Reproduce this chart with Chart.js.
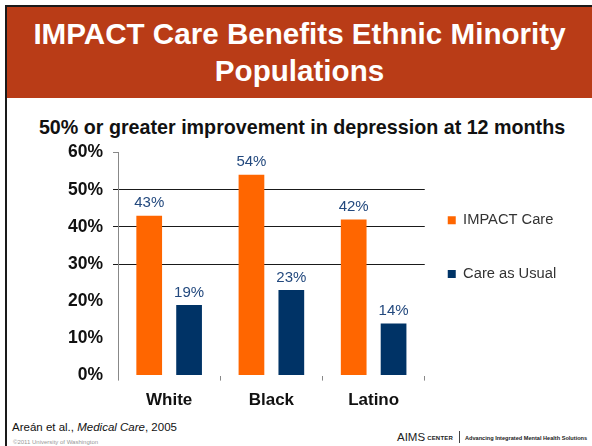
<!DOCTYPE html>
<html>
<head>
<meta charset="utf-8">
<script src="https://cdn.jsdelivr.net/npm/chart.js@4"></script>
<style>
  html, body { margin: 0; padding: 0; background: #fff; }
  body { width: 592px; height: 446px; position: relative; overflow: hidden;
         font-family: "Liberation Sans", Arial, sans-serif; }
  .frame-top { position: absolute; left: 5px; top: 5px; width: 587px; height: 2px; background: #1a1a1a; }
  .frame-left { position: absolute; left: 5px; top: 5px; width: 2px; height: 441px; background: #1a1a1a; }
  .header { position: absolute; left: 7px; top: 7px; width: 585px; height: 91px; background: #B93C17;
            color: #fff; font-weight: bold; font-size: 29.6px; line-height: 37px; text-align: center;
            box-sizing: border-box; padding-top: 8px; }
  .subtitle { position: absolute; left: 8px; top: 115px; width: 588px; text-align: center;
              font-size: 19.7px; line-height: 24px; font-weight: bold; color: #111; white-space: nowrap; }
  .chart-box { position: absolute; left: 8px; top: 132px; width: 584px; height: 289px; }
  .cite { position: absolute; left: 12px; top: 420px; font-size: 11.5px; line-height: 14px; color: #111; }
  .copy { position: absolute; left: 13px; top: 439px; font-size: 6px; line-height: 7px; color: #999; }
  .aims { position: absolute; left: 397px; top: 431px; font-size: 11.5px; color: #222; white-space: nowrap; }
  .aims .ctr { font-size: 6px; font-weight: bold; letter-spacing: 0.2px; vertical-align: 1px; margin-left: 2px; }
  .aims .bar { display: inline-block; width: 1px; height: 12px; background: #444; vertical-align: -2px; margin: 0 5px 0 6px; }
  .aims .tag { font-size: 5.6px; font-weight: bold; vertical-align: 1px; }
</style>
</head>
<body>
<div class="frame-top"></div>
<div class="frame-left"></div>
<div class="header">IMPACT Care Benefits Ethnic Minority<br>Populations</div>
<div class="subtitle">50% or greater improvement in depression at 12 months</div>
<div class="cite">Areán et al., <i>Medical Care</i>, 2005</div>
<div class="copy">©2011 University of Washington</div>
<div class="aims">AIMS<span class="ctr">CENTER</span><span class="bar"></span><span class="tag">Advancing Integrated Mental Health Solutions</span></div>
<div class="chart-box"><canvas id="chart"></canvas></div>

<script>
// Groups along the x axis
const groups = ["White", "Black", "Latino"];
// Share of patients with 50%+ improvement at 12 months (%)
const impactCare = [43, 54, 42];
const careAsUsual = [19, 23, 14];
// Y axis tick values (%)
const yTicks = [0, 10, 20, 30, 40, 50, 60];
const gridValues = [30, 40, 50];

const ORANGE = "#FF6600";
const NAVY = "#003366";
const LABEL_BLUE = "#23497E";
const FONT = "'Liberation Sans', Arial, sans-serif";

// Writes each bar's value just above it
const valueLabels = {
  id: "valueLabels",
  afterDatasetsDraw(chart) {
    const ctx = chart.ctx;
    ctx.save();
    ctx.font = "15px " + FONT;
    ctx.fillStyle = LABEL_BLUE;
    ctx.textAlign = "center";
    ctx.textBaseline = "bottom";
    chart.data.datasets.forEach((ds, di) => {
      chart.getDatasetMeta(di).data.forEach((bar, i) => {
        ctx.fillText(ds.data[i] + "%", bar.x, bar.y - 5);
      });
    });
    ctx.restore();
  }
};

// Pulls the legend closer to the plot, lowers it beside the bars and
// widens its box so the labels are not clipped
const legendOffset = {
  id: "legendOffset",
  afterLayout(chart, args, opts) {
    const lg = chart.legend;
    lg.left -= opts.dx;
    lg.right = chart.width;
    lg.width = lg.right - lg.left;
    lg.top += opts.dy; lg.bottom += opts.dy;
    if (lg.adjustHitBoxes) lg.adjustHitBoxes();
  }
};

new Chart(document.getElementById("chart"), {
  type: "bar",
  data: {
    labels: groups,
    datasets: [
      { label: "IMPACT Care", data: impactCare, backgroundColor: ORANGE },
      { label: "Care as Usual", data: careAsUsual, backgroundColor: NAVY }
    ]
  },
  options: {
    responsive: true,
    maintainAspectRatio: false,
    animation: false,
    events: [],
    layout: { padding: { left: 50, right: 45, top: 1, bottom: 0 } },
    datasets: { bar: { categoryPercentage: 0.78, barPercentage: 0.645 } },
    scales: {
      x: {
        grid: { display: true, offset: true, drawOnChartArea: false, tickLength: 5, tickColor: "#888" },
        border: { display: false },
        ticks: { color: "#111", font: { family: FONT, size: 17, weight: "bold" }, padding: 10 }
      },
      y: {
        min: 0, max: 60,
        afterBuildTicks(axis) { axis.ticks = yTicks.map(v => ({ value: v })); },
        grid: {
          tickLength: 5,
          color: c => gridValues.includes(c.tick.value) ? "#1a1a1a" : "rgba(0,0,0,0)",
          tickColor: c => gridValues.includes(c.tick.value) ? "#1a1a1a" : (c.tick.value === 60 ? "#888" : "rgba(0,0,0,0)")
        },
        border: { display: true, color: "#888", width: 1 },
        ticks: {
          color: "#111", padding: 10,
          font: { family: FONT, size: 17.5, weight: "bold" },
          callback: v => v + "%"
        }
      }
    },
    plugins: {
      legend: {
        position: "right",
        align: "start",
        labels: {
          boxWidth: 8, boxHeight: 8, padding: 39, color: "#333",
          font: { family: FONT, size: 14.7 }
        }
      },
      legendOffset: { dx: 16, dy: 41 },
      tooltip: { enabled: false }
    }
  },
  plugins: [valueLabels, legendOffset]
});
</script>
</body>
</html>
